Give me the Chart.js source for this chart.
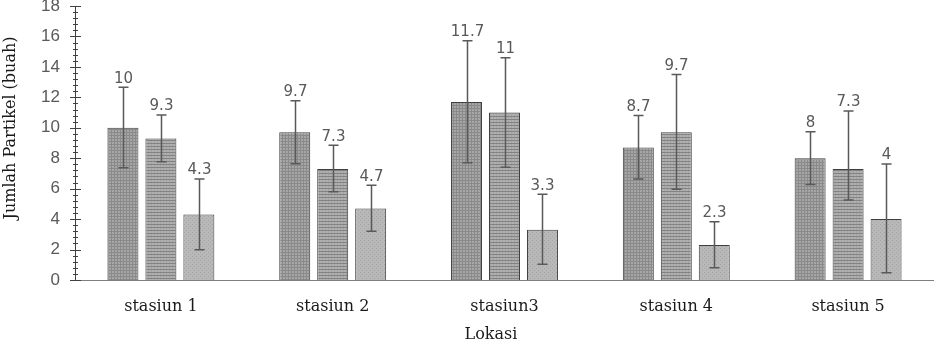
<!DOCTYPE html>
<html>
<head>
<meta charset="utf-8">
<script src="https://cdn.jsdelivr.net/npm/chart.js@4.4.1/dist/chart.umd.min.js"></script>
<style>
  html, body { margin: 0; padding: 0; background: #fff; }
  #wrap { width: 934px; height: 343px; position: relative; }
</style>
</head>
<body>
<div id="wrap"><canvas id="chart"></canvas></div>
<script>
const categories = ['stasiun 1', 'stasiun 2', 'stasiun3', 'stasiun 4', 'stasiun 5'];
const seriesA = [10, 9.7, 11.7, 8.7, 8];
const seriesB = [9.3, 7.3, 11, 9.7, 7.3];
const seriesC = [4.3, 4.7, 3.3, 2.3, 4];

// error bar extents (plus / minus from the bar value)
const plusA = [2.66, 2.08, 4.02, 2.1, 1.74];
const minusA = [2.62, 2.06, 3.99, 2.06, 1.72];
const plusB = [1.54, 1.55, 3.6, 3.8, 3.8];
const minusB = [1.53, 1.5, 3.6, 3.74, 2.04];
const plusC = [2.34, 1.52, 2.33, 1.53, 3.62];
const minusC = [2.31, 1.5, 2.27, 1.49, 3.52];

const yTicks = [0, 2, 4, 6, 8, 10, 12, 14, 16, 18];

const makePattern = (size, bg, paint) => {
    const c = document.createElement('canvas');
    c.width = size; c.height = size;
    const g = c.getContext('2d');
    g.fillStyle = bg;
    g.fillRect(0, 0, size, size);
    paint(g);
    return g.createPattern(c, 'repeat');
};

const ctx = document.getElementById('chart').getContext('2d');

const patA = makePattern(3, '#a6a6a6', g => {
    g.fillStyle = '#8a8a8a';
    g.fillRect(0, 0, 3, 1);
    g.fillRect(0, 0, 1, 3);
});
const patB = makePattern(3, '#b0b0b0', g => {
    g.fillStyle = '#838383';
    g.fillRect(0, 2, 3, 1);
    g.fillStyle = '#a4a4a4';
    g.fillRect(1, 0, 1, 2);
});
const patC = makePattern(4, '#b8b8b8', g => {
    g.fillStyle = '#a4a4a4';
    g.fillRect(0, 0, 1, 1);
    g.fillRect(2, 2, 1, 1);
});

const errorsFor = [[plusA, minusA], [plusB, minusB], [plusC, minusC]];

// error bars plus value labels on top of them
const errorBarPlugin = {
    id: 'errorBars',
    afterDatasetsDraw(chart) {
        const c = chart.ctx;
        const y = chart.scales.y;
        chart.data.datasets.forEach((ds, i) => {
            const meta = chart.getDatasetMeta(i);
            const [plus, minus] = errorsFor[i];
            meta.data.forEach((bar, j) => {
                const v = ds.data[j];
                const top = y.getPixelForValue(v + plus[j]);
                const bot = y.getPixelForValue(v - minus[j]);
                const x = Math.round(bar.x) + 0.5;
                c.save();
                c.strokeStyle = '#595959';
                c.lineWidth = 1.5;
                c.beginPath();
                c.moveTo(x, top); c.lineTo(x, bot);
                c.moveTo(x - 5, top); c.lineTo(x + 5, top);
                c.moveTo(x - 5, bot); c.lineTo(x + 5, bot);
                c.stroke();
                c.fillStyle = '#595959';
                c.font = '15px "DejaVu Sans"';
                c.textAlign = 'center';
                c.textBaseline = 'bottom';
                c.fillText(String(v), x, top - 1);
                c.restore();
            });
        });
    }
};

// y axis tick marks (major every 2, minor every 0.4) and axis titles
const axisPlugin = {
    id: 'axisDecor',
    afterDraw(chart) {
        const c = chart.ctx;
        const y = chart.scales.y;
        const ax = chart.chartArea.left;
        c.save();
        c.strokeStyle = '#404040';
        c.lineWidth = 1;
        c.beginPath();
        for (let k = 0; k <= 45; k++) {
            const py = Math.round(y.getPixelForValue(k * 0.4)) + 0.5;
            const major = k % 5 === 0;
            c.moveTo(major ? ax - 5 : ax - 2, py);
            c.lineTo(major ? ax + 6 : ax + 3, py);
        }
        c.stroke();

        c.fillStyle = '#1a1a1a';
        c.font = '16px "DejaVu Serif"';
        c.textAlign = 'center';
        c.textBaseline = 'middle';
        c.fillText('Lokasi', 491, 335);
        c.translate(11, 128);
        c.rotate(-Math.PI / 2);
        c.fillText('Jumlah Partikel (buah)', 0, 0);
        c.restore();
    }
};

new Chart(ctx, {
    type: 'bar',
    data: {
        labels: categories,
        datasets: [
            { label: 'A', data: seriesA, backgroundColor: patA, borderColor: '#3f3f3f', borderWidth: 1 },
            { label: 'B', data: seriesB, backgroundColor: patB, borderColor: '#3f3f3f', borderWidth: 1 },
            { label: 'C', data: seriesC, backgroundColor: patC, borderColor: '#3f3f3f', borderWidth: 1 },
        ],
    },
    options: {
        responsive: true,
        maintainAspectRatio: false,
        animation: false,
        layout: { padding: { top: 6, right: 0, left: 0, bottom: 0 } },
        datasets: {
            bar: { categoryPercentage: 0.663, barPercentage: 0.816 },
        },
        plugins: {
            legend: { display: false },
            tooltip: { enabled: false },
        },
        scales: {
            x: {
                grid: { display: false, drawTicks: false },
                border: { display: true, color: '#7f7f7f', width: 1 },
                ticks: { color: '#1a1a1a', font: { family: 'DejaVu Serif', size: 16 }, padding: 17 },
                afterFit: scale => { scale.height = 63; scale.paddingLeft = 0; scale.paddingRight = 0; },
            },
            y: {
                min: 0,
                max: 18,
                afterBuildTicks: scale => { scale.ticks = yTicks.map(v => ({ value: v })); },
                grid: { display: false, drawTicks: false },
                border: { display: true, color: '#404040', width: 1 },
                ticks: { color: '#595959', font: { family: 'Liberation Sans', size: 17 }, padding: 15 },
                afterFit: scale => { scale.width = 75; scale.paddingTop = 0; scale.paddingBottom = 0; },
            },
        },
    },
    plugins: [errorBarPlugin, axisPlugin],
});
</script>
</body>
</html>
